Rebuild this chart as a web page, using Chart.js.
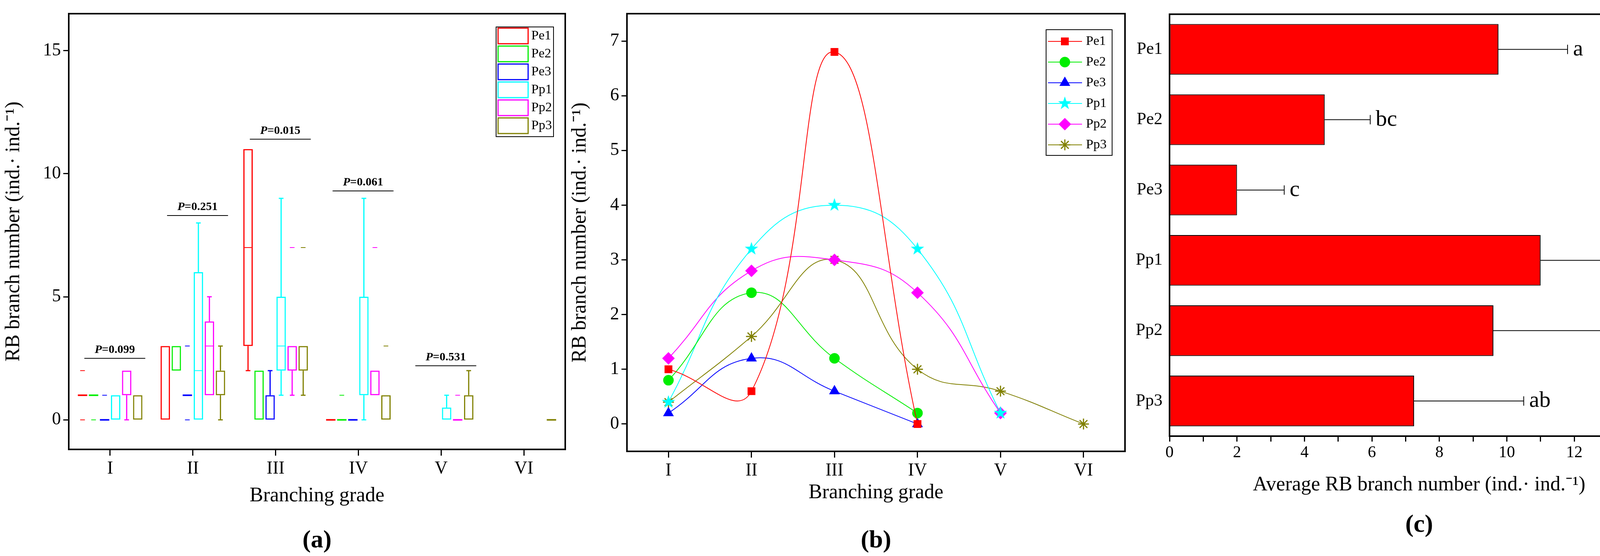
<!DOCTYPE html>
<html><head><meta charset="utf-8">
<script src="https://cdn.jsdelivr.net/npm/chart.js@4"></script>
<style>
html,body{margin:0;padding:0;background:#fff;width:4299px;height:1424px;overflow:hidden}
canvas{position:absolute;top:0}
</style></head><body>
<canvas id="ca" width="1450" height="1424" style="left:0;width:1450px;height:1424px"></canvas>
<canvas id="cb" width="1450" height="1424" style="left:1450px;width:1450px;height:1424px"></canvas>
<canvas id="cc" width="1399" height="1424" style="left:2900px;width:1399px;height:1424px"></canvas>
<script>
const grades = ['I','II','III','IV','V','VI'];
const seriesNames = ['Pe1','Pe2','Pe3','Pp1','Pp2','Pp3'];
const colors = ['#ff0000','#00ee00','#0000ff','#00ffff','#ff00ff','#808000'];
// panel (a) box plot: [q1,q3] per grade, medians, whiskers [low,high], outliers
const boxPe1 = [[1,1],[0,3],[3,11],[0,0],null,null];
const boxPe2 = [[1,1],[2,3],[0,2],[0,0],null,null];
const boxPe3 = [[0,0],[1,1],[0,1],[0,0],null,null];
const boxPp1 = [[0,1],[0,6],[2,5],[1,5],[0,0.5],null];
const boxPp2 = [[1,2],[1,4],[2,3],[1,2],[0,0],null];
const boxPp3 = [[0,1],[1,2],[2,3],[0,1],[0,1],[0,0]];
const medPe1 = [null,null,7,null,null,null];
const medPe2 = [null,null,null,null,null,null];
const medPe3 = [null,null,null,null,null,null];
const medPp1 = [null,2,3,null,null,null];
const medPp2 = [null,3,null,null,null,null];
const medPp3 = [null,null,null,null,null,null];
const whiskPe1 = [null,null,[2,11],null,null,null];
const whiskPe2 = [null,null,null,null,null,null];
const whiskPe3 = [null,null,[0,2],null,null,null];
const whiskPp1 = [null,[0,8],[1,9],[0,9],[0,1],null];
const whiskPp2 = [[0,2],[1,5],[1,3],null,null,null];
const whiskPp3 = [null,[0,3],[1,3],null,[0,2],null];
const outPe1 = [[2,0],[],[],[],[],[]];
const outPe2 = [[0],[],[],[1],[],[]];
const outPe3 = [[1],[3,0],[],[],[],[]];
const outPp1 = [[],[],[],[],[],[]];
const outPp2 = [[],[],[7],[7],[1],[]];
const outPp3 = [[],[],[7],[3],[],[]];
const pGrades = ['I','II','III','IV','V'];
const pValues = ['0.099','0.251','0.015','0.061','0.531'];
const pLevels = [2.5,8.3,11.4,9.3,2.2];
// panel (b) means
const meanPe1 = [1,0.6,6.8,0,null,null];
const meanPe2 = [0.8,2.4,1.2,0.2,null,null];
const meanPe3 = [0.2,1.2,0.6,0,null,null];
const meanPp1 = [0.4,3.2,4,3.2,0.2,null];
const meanPp2 = [1.2,2.8,3,2.4,0.2,null];
const meanPp3 = [0.4,1.6,3,1,0.6,0];
// panel (c)
const avgValues = [9.75,4.6,2.0,11.0,9.6,7.25];
const avgErrors = [2.05,1.35,1.4,2.0,4.0,3.25];
const avgLetters = ['a','bc','c','a','a','ab'];

const F = 'Liberation Serif';
Chart.defaults.font.family = F;
Chart.defaults.color = '#000';
Chart.defaults.animation = false;
Chart.defaults.responsive = false;
Chart.defaults.maintainAspectRatio = false;
Chart.defaults.devicePixelRatio = 1;

const frame = {id:'frame', afterDraw(c){const a=c.chartArea,x=c.ctx,o=c.options.plugins.frameText;x.save();x.strokeStyle='#000';x.lineWidth=4;x.strokeRect(a.left,a.top,a.right-a.left,a.bottom-a.top);
  x.fillStyle='#000';x.textAlign='center';x.textBaseline='middle';
  x.font='52px '+F;x.fillText(o.title,(a.left+a.right)/2,o.titleY);
  x.font='bold 64px '+F;x.fillText(o.label,(a.left+a.right)/2,o.labelY);x.restore();}};

function fitW(w){return s=>{s.width=w;};}
function fitH(h){return s=>{s.height=h;};}

// ---------- (a)
const boxes=[boxPe1,boxPe2,boxPe3,boxPp1,boxPp2,boxPp3];
const meds=[medPe1,medPe2,medPe3,medPp1,medPp2,medPp3];
const whisks=[whiskPe1,whiskPe2,whiskPe3,whiskPp1,whiskPp2,whiskPp3];
const outs=[outPe1,outPe2,outPe3,outPp1,outPp2,outPp3];
const boxPlug={id:'box',afterDatasetsDraw(c){
  const x=c.ctx,y=c.scales.y,xs=c.scales.x;x.save();
  boxes.forEach((bx,d)=>{const meta=c.getDatasetMeta(d);x.strokeStyle=colors[d];
    bx.forEach((b,i)=>{const el=meta.data[i];const cx=el.x,w=el.width||24;
      if(b&&b[0]===b[1]){x.lineWidth=4;x.beginPath();x.moveTo(cx-w/2,y.getPixelForValue(b[0]));x.lineTo(cx+w/2,y.getPixelForValue(b[0]));x.stroke();}
      if(meds[d][i]!=null){x.lineWidth=2;x.beginPath();x.moveTo(cx-w/2,y.getPixelForValue(meds[d][i]));x.lineTo(cx+w/2,y.getPixelForValue(meds[d][i]));x.stroke();}
      const wk=whisks[d][i];
      if(wk&&b){x.lineWidth=3;x.beginPath();
        if(wk[1]>b[1]){x.moveTo(cx,y.getPixelForValue(b[1]));x.lineTo(cx,y.getPixelForValue(wk[1]));x.moveTo(cx-6,y.getPixelForValue(wk[1]));x.lineTo(cx+6,y.getPixelForValue(wk[1]));}
        if(wk[0]<b[0]){x.moveTo(cx,y.getPixelForValue(b[0]));x.lineTo(cx,y.getPixelForValue(wk[0]));x.moveTo(cx-6,y.getPixelForValue(wk[0]));x.lineTo(cx+6,y.getPixelForValue(wk[0]));}
        x.stroke();}
      x.lineWidth=2;(outs[d][i]||[]).forEach(o=>{x.beginPath();x.moveTo(cx-6,y.getPixelForValue(o));x.lineTo(cx+6,y.getPixelForValue(o));x.stroke();});
    });});
  x.strokeStyle='#000';x.fillStyle='#000';x.lineWidth=2;x.textBaseline='alphabetic';
  pGrades.forEach((g,k)=>{const cx=xs.getPixelForValue(grades.indexOf(g))+12,py=y.getPixelForValue(pLevels[k]);
    x.beginPath();x.moveTo(cx-78,py);x.lineTo(cx+78,py);x.stroke();
    x.font='italic bold 30px '+F;const w1=x.measureText('P').width;x.font='bold 30px '+F;const w2=x.measureText('='+pValues[k]).width;
    let sx=cx-(w1+w2)/2;x.font='italic bold 30px '+F;x.textAlign='left';x.fillText('P',sx,py-14);x.font='bold 30px '+F;x.fillText('='+pValues[k],sx+w1,py-14);});
  const lx=1270,ly=69,lw=147,lh=281;x.lineWidth=2;x.strokeStyle='#000';x.strokeRect(lx,ly,lw,lh);
  x.font='34px '+F;x.textBaseline='middle';x.textAlign='left';
  seriesNames.forEach((n,k)=>{const yy=ly+23+k*46;x.strokeStyle=colors[k];x.lineWidth=3;x.strokeRect(lx+5,yy-20,77,40);x.fillStyle='#000';x.fillText(n,lx+90,yy);});
  x.restore();}};
new Chart(document.getElementById('ca'),{type:'bar',
 data:{labels:grades,datasets:boxes.map((b,d)=>({label:seriesNames[d],data:b,backgroundColor:'rgba(0,0,0,0)',borderColor:colors[d],borderWidth:3,borderSkipped:false,barPercentage:0.85,categoryPercentage:0.8}))},
 options:{layout:{padding:{top:35,right:3,left:0,bottom:0}},
  plugins:{legend:{display:false},tooltip:{enabled:false},frameText:{title:'Branching grade',titleY:1270,label:'(a)',labelY:1385}},
  scales:{x:{grid:{display:true,drawOnChartArea:false,offset:false,tickLength:16,tickWidth:3,color:'#000'},border:{display:false},ticks:{font:{size:46},padding:6},afterFit:fitH(273)},
   y:{min:-1.2,max:16.5,grid:{drawOnChartArea:false,tickLength:14,tickWidth:3,color:'#000'},border:{display:false},ticks:{font:{size:46},padding:6},afterBuildTicks:s=>{s.ticks=[0,5,10,15].map(v=>({value:v}));},title:{display:true,text:'RB branch number (ind.· ind.⁻¹)',font:{size:52},padding:{bottom:6}},afterFit:fitW(176)}}},
 plugins:[frame,boxPlug]});

// ---------- (b)
function starImg(col){const c=document.createElement('canvas');c.width=c.height=36;const x=c.getContext('2d');x.fillStyle=col;x.beginPath();
 for(let i=0;i<10;i++){const r=i%2?7:18,a=-Math.PI/2+i*Math.PI/5;x.lineTo(18+r*Math.cos(a),18+r*Math.sin(a));}x.closePath();x.fill();return c;}
const means=[meanPe1,meanPe2,meanPe3,meanPp1,meanPp2,meanPp3];
const pstyles=['rect','circle','triangle',starImg(colors[3]),'rectRot','star'];
const radii=[12,12,13,17,14,14];
const legB={id:'legB',afterDraw(c){const x=c.ctx;x.save();const lx=2678-1450,ly=76,lw=169,lh=322;x.strokeStyle='#000';x.lineWidth=2;x.strokeRect(lx,ly,lw,lh);
 x.font='34px '+F;x.textBaseline='middle';x.textAlign='left';
 seriesNames.forEach((n,k)=>{const yy=ly+30+k*53;x.strokeStyle=colors[k];x.fillStyle=colors[k];x.lineWidth=2;x.beginPath();x.moveTo(lx+5,yy);x.lineTo(lx+92,yy);x.stroke();
  x.lineWidth=3;Chart.helpers.drawPoint(x,{pointStyle:pstyles[k],radius:radii[k],borderWidth:3},lx+48,yy);x.fillStyle='#000';x.fillText(n,lx+102,yy);});
 x.restore();}};
new Chart(document.getElementById('cb'),{type:'line',
 data:{labels:grades,datasets:means.map((m,d)=>({label:seriesNames[d],data:m,borderColor:colors[d],backgroundColor:colors[d],borderWidth:2,tension:0.45,pointStyle:pstyles[d],pointRadius:radii[d],pointBorderWidth:3,spanGaps:false}))},
 options:{layout:{padding:{top:35,right:16,left:0,bottom:0}},
  plugins:{legend:{display:false},tooltip:{enabled:false},frameText:{title:'Branching grade',titleY:1262,label:'(b)',labelY:1385}},
  scales:{x:{offset:true,grid:{display:true,drawOnChartArea:false,offset:false,tickLength:16,tickWidth:3,color:'#000'},border:{display:false},ticks:{font:{size:46},padding:6},afterFit:fitH(268)},
   y:{min:-0.5,max:7.5,grid:{drawOnChartArea:false,tickLength:14,tickWidth:3,color:'#000'},border:{display:false},afterBuildTicks:s=>{s.ticks=[0,1,2,3,4,5,6,7].map(v=>({value:v}));},ticks:{font:{size:46},padding:6},title:{display:true,text:'RB branch number (ind.· ind.⁻¹)',font:{size:52},padding:{bottom:4}},afterFit:fitW(155)}}},
 plugins:[frame,legB]});

// ---------- (c)
const errPlug={id:'err',afterDatasetsDraw(c){const x=c.ctx,xs=c.scales.x,meta=c.getDatasetMeta(0);x.save();x.strokeStyle='#000';x.fillStyle='#000';x.lineWidth=2;
 x.font='58px '+F;x.textBaseline='middle';x.textAlign='left';
 avgValues.forEach((v,i)=>{const yy=meta.data[i].y,x0=xs.getPixelForValue(v),x1=xs.getPixelForValue(v+avgErrors[i]);
  x.beginPath();x.moveTo(x0,yy);x.lineTo(x1,yy);x.moveTo(x1,yy-12);x.lineTo(x1,yy+12);x.stroke();x.fillText(avgLetters[i],x1+14,yy);});x.restore();}};
new Chart(document.getElementById('cc'),{type:'bar',
 data:{labels:seriesNames,datasets:[{data:avgValues,backgroundColor:'#ff0000',borderColor:'#000',borderWidth:2,borderSkipped:false,barPercentage:0.72,categoryPercentage:1}]},
 options:{indexAxis:'y',layout:{padding:{top:31,right:27,left:0,bottom:0}},
  plugins:{legend:{display:false},tooltip:{enabled:false},frameText:{title:'Average RB branch number (ind.· ind.⁻¹)',titleY:1242,label:'(c)',labelY:1345}},
  scales:{x:{min:0,max:14.8,grid:{drawOnChartArea:false,tickLength:14,tickWidth:3,color:'#000'},border:{display:false},afterBuildTicks:s=>{const t=[];for(let v=0;v<=14;v++)t.push({value:v});s.ticks=t;},ticks:{font:{size:42},padding:4,autoSkip:false,maxRotation:0,callback:(v,i)=>i%2?'':String(i)},afterFit:fitH(307)},
   y:{grid:{display:false},border:{display:false},ticks:{font:{size:44},padding:10},afterFit:fitW(94)}}},
 plugins:[frame,errPlug]});
</script></body></html>
